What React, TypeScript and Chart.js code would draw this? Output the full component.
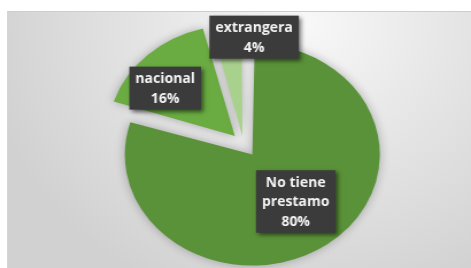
import React, { useEffect, useRef } from 'react';
import { Chart, registerables } from 'chart.js';

Chart.register(...registerables);

// ---- data ----
const categories = ['No tiene prestamo', 'nacional', 'extrangera'];
const categoryLines = [['No tiene', 'prestamo'], ['nacional'], ['extrangera']];
const percentages = [80, 16, 4];

// ---- style ----
const SX = 471 / 410; // horizontal stretch of the picture
const sliceColors = ['#5a9239', '#6aac42', '#a9d18e'];
const sliceOffsets = [13, 11, 7.5]; // explosion distance in px
const R = 111;
const labelPlacement = [
  { f: 0.54, dx: 2.5, dy: -1.5 },
  { f: 0.7, dx: -7.5, dy: 8.8 },
  { f: 0.89, dx: 22.5, dy: -1.4 },
];

const piePlugin = {
  id: 'piePlugin',
  beforeDatasetsDraw(chart: any) {
    const meta = chart.getDatasetMeta(0);
    meta.data.forEach((arc: any, i: number) => {
      const c = arc.circumference;
      const fix = 1 - Math.sin(Math.min(Math.PI, c || 0));
      arc.outerRadius = R - sliceOffsets[i] * fix;
    });
    const ctx = chart.ctx;
    ctx.save();
    ctx.shadowColor = 'rgba(0,0,0,0.28)';
    ctx.shadowBlur = 10;
  },
  afterDatasetsDraw(chart: any) {
    const ctx = chart.ctx;
    ctx.restore();
    const meta = chart.getDatasetMeta(0);
    meta.data.forEach((arc: any, i: number) => {
      const { x, y, startAngle, endAngle } = arc;
      const mid = (startAngle + endAngle) / 2;
      const off = sliceOffsets[i];
      const vx = x + Math.cos(mid) * off;
      const vy = y + Math.sin(mid) * off;
      const p = labelPlacement[i];
      const lx = vx + Math.cos(mid) * p.f * R + p.dx;
      const ly = vy + Math.sin(mid) * p.f * R + p.dy;
      const lines = [...categoryLines[i], `${percentages[i]}%`];
      ctx.save();
      ctx.translate(lx, ly);
      ctx.scale(1 / SX, 1);
      ctx.font = 'bold 14px "Open Sans"';
      const w = Math.max(...lines.map((l) => ctx.measureText(l).width)) + 12;
      const lh = 19.5;
      const h = lines.length * lh + 4;
      ctx.shadowColor = 'rgba(0,0,0,0.55)';
      ctx.shadowBlur = 4;
      ctx.shadowOffsetX = 2;
      ctx.shadowOffsetY = 2;
      ctx.fillStyle = '#3b3b3b';
      ctx.fillRect(-w / 2, -h / 2, w, h);
      ctx.shadowColor = 'transparent';
      ctx.shadowBlur = 0;
      ctx.shadowOffsetX = 0;
      ctx.shadowOffsetY = 0;
      ctx.fillStyle = '#f4f4f4';
      ctx.textAlign = 'center';
      ctx.textBaseline = 'middle';
      lines.forEach((l, k) => ctx.fillText(l, 0, -h / 2 + 2 + lh * (k + 0.5) + 1));
      ctx.restore();
    });
  },
};

export default function App() {
  const canvasRef = useRef<HTMLCanvasElement>(null);

  useEffect(() => {
    if (!canvasRef.current) return;
    const chart = new Chart(canvasRef.current, {
      type: 'pie',
      data: {
        labels: categories,
        datasets: [
          {
            data: percentages,
            backgroundColor: sliceColors,
            borderWidth: 0,
            offset: sliceOffsets.map((o) => o * 4),
            hoverOffset: 0,
            radius: R,
          } as any,
        ],
      },
      options: {
        animation: false,
        responsive: true,
        maintainAspectRatio: false,
        events: [],
        layout: { padding: { left: 14, right: 0, top: 20, bottom: 0 } },
        plugins: { legend: { display: false }, tooltip: { enabled: false } },
      },
      plugins: [piePlugin],
    });
    return () => chart.destroy();
  }, []);

  return (
    <div
      style={{
        position: 'fixed',
        left: 0,
        top: 0,
        width: 471,
        height: 268,
        background: '#ffffff',
        overflow: 'hidden',
      }}
    >
      <div
        style={{
          position: 'absolute',
          left: 7,
          top: 11,
          width: 464,
          height: 257,
          boxSizing: 'border-box',
          borderTop: '1px solid #cdcdcd',
          borderLeft: '1px solid #d6d6d6',
          background:
            'radial-gradient(ellipse 70% 115% at 64% 4%, #f8f8f8 0%, #e6e6e6 45%, #d1d1d1 100%)',
        }}
      />
      <div
        style={{
          position: 'absolute',
          left: 0,
          top: 0,
          width: 410,
          height: 268,
          transform: `scaleX(${SX})`,
          transformOrigin: '0 0',
        }}
      >
        <canvas ref={canvasRef} />
      </div>
    </div>
  );
}
